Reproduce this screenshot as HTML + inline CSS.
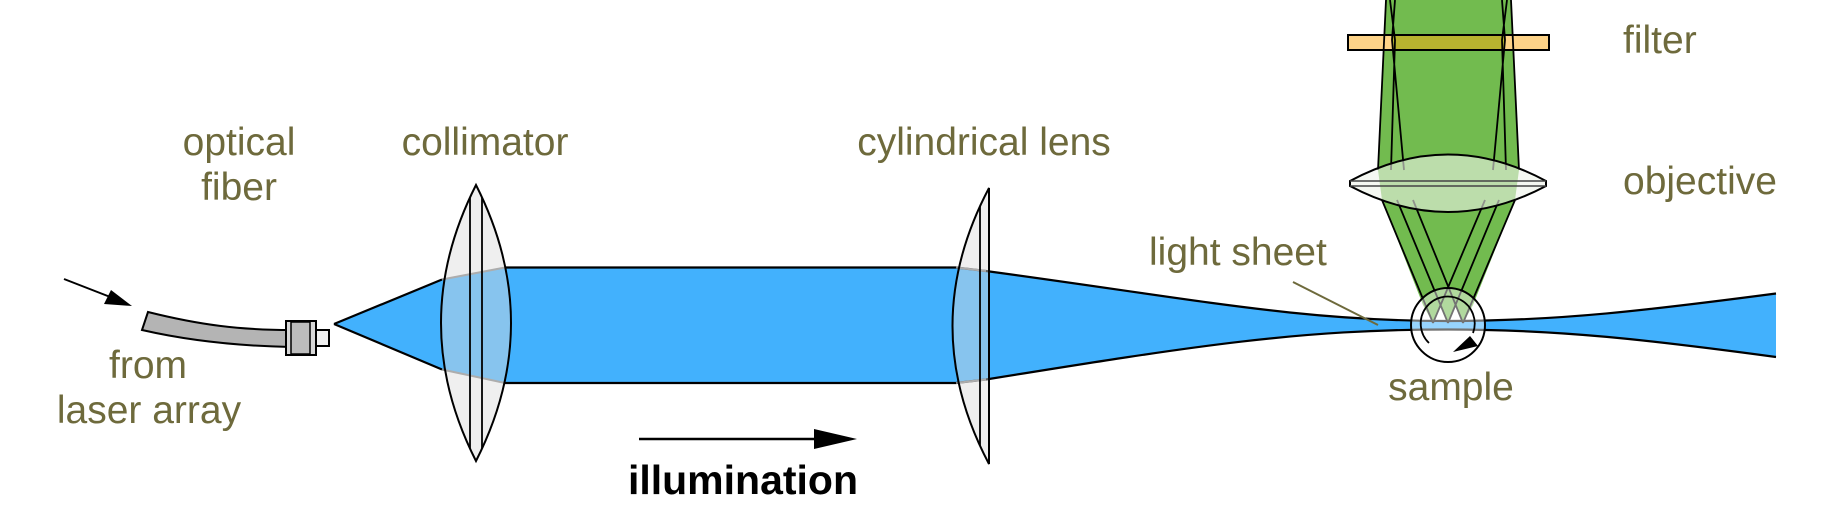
<!DOCTYPE html>
<html><head><meta charset="utf-8"><style>
html,body{margin:0;padding:0;background:#fff;}
svg{display:block;}
text{font-family:"Liberation Sans",sans-serif;fill:#6e6a3c;font-size:39px;}
</style></head><body>
<svg width="1824" height="523" viewBox="0 0 1824 523" xmlns="http://www.w3.org/2000/svg">
<defs>
<clipPath id="coll"><path d="M476,185 Q406,323 476,461 Q546,323 476,185 Z"/></clipPath>
<clipPath id="cyl"><path d="M989,188 Q916,326 989,464 Z"/></clipPath>
</defs>
<!-- illumination beam -->
<path d="M334,324 L442,279.5 L505,267.5 L956,267.5 L986,271 C1200,300 1300,321 1448,321 C1560,321 1650,310 1776,293.5 L1776,357 C1650,340 1560,329.5 1448,329.5 C1300,329.5 1200,345 986,379.5 L956,383 L505,383 L442,369.5 Z" fill="#42b1fd"/>
<path d="M334,324 L442,279.5 M442,369.5 L334,324 M505,267.5 L956,267.5 L986,271 C1200,300 1300,321 1448,321 C1560,321 1650,310 1776,293.5 M1776,357 C1650,340 1560,329.5 1448,329.5 C1300,329.5 1200,345 986,379.5 L956,383 L505,383" fill="none" stroke="#000" stroke-width="2.2"/>
<path d="M442,279.5 L505,267.5 M442,369.5 L505,383 M956,267.5 L986,271 M956,383 L986,379.5" stroke="#888" stroke-width="2"/>

<!-- green detection -->
<polygon points="1386,0 1511,0 1519,170 1515,200 1473,305 1463,323 1455,305 1448,323 1440,305 1433,323 1423,305 1382,200 1378,170" fill="#72bb4f"/>
<rect x="1348" y="35" width="201" height="15" fill="#fdd388" stroke="#000" stroke-width="2"/>
<rect x="1392" y="36" width="113" height="13" fill="#b8b32f"/>
<g stroke="#000" stroke-width="1.8" fill="none">
<path d="M1378,170 L1386,0 M1391,170 L1395,40 L1390,0 M1404,170 L1392,40 L1395,0"/>
<path d="M1519,170 L1511,0 M1506,170 L1502,40 L1507,0 M1493,170 L1505,40 L1502,0"/>
<path d="M1382,200 L1433,323 M1397,200 L1448,323 M1413,200 L1463,323"/>
<path d="M1515,200 L1463,323 M1499,200 L1448,323 M1485,200 L1433,323"/>
</g>
<!-- objective -->
<path d="M1350,181 Q1448,128 1546,181 L1546,186 Q1448,238 1350,186 Z" fill="#eef4ea" fill-opacity="0.6" stroke="#000" stroke-width="2"/>
<path d="M1350,181 L1546,181 M1350,186 L1546,186" stroke="#444" stroke-width="1.6"/>

<!-- sample -->
<circle cx="1448" cy="325" r="37" fill="#fff" fill-opacity="0.45" stroke="#000" stroke-width="2"/>
<path d="M1429,343 A27,27 0 1 1 1473,333" fill="none" stroke="#000" stroke-width="1.8"/>
<path d="M1453,352 L1470,336 L1478,346 Z" fill="#000"/>
<line x1="1293" y1="282" x2="1378" y2="325" stroke="#6e6a3c" stroke-width="2"/>

<!-- collimator -->
<path d="M476,185 Q406,323 476,461 Q546,323 476,185 Z" fill="#dcdcdc" fill-opacity="0.45" stroke="#000" stroke-width="2"/>
<g clip-path="url(#coll)"><path d="M470,180 L470,466 M482,180 L482,466" stroke="#000" stroke-width="1.8"/></g>
<!-- cylindrical lens -->
<path d="M989,188 Q916,326 989,464 Z" fill="#dcdcdc" fill-opacity="0.45" stroke="#000" stroke-width="2"/>
<g clip-path="url(#cyl)"><path d="M980,180 L980,470" stroke="#000" stroke-width="1.8"/></g>

<!-- fiber -->
<path d="M148,312 C200,325 240,330 291,330 L291,347 C240,346 190,341 142,330 Z" fill="#b4b4b4" stroke="#000" stroke-width="2"/>
<rect x="286" y="321" width="30" height="34" fill="#d8d8d8" stroke="#000" stroke-width="2"/>
<rect x="291" y="322" width="19" height="32" fill="#bdbdbd" stroke="#000" stroke-width="1.5"/>
<rect x="316" y="330" width="13" height="16" fill="#f0f0f0" stroke="#000" stroke-width="2"/>
<line x1="64" y1="279" x2="118" y2="300" stroke="#000" stroke-width="2"/>
<path d="M132,306 L104,304 L111,290 Z" fill="#000"/>

<!-- illumination arrow -->
<line x1="639" y1="439" x2="820" y2="439" stroke="#000" stroke-width="2.5"/>
<path d="M857,439 L814,429 L814,449 Z" fill="#000"/>

<!-- labels -->
<text x="239" y="155" text-anchor="middle">optical</text>
<text x="239" y="200" text-anchor="middle">fiber</text>
<text x="485" y="155" text-anchor="middle">collimator</text>
<text x="984" y="155" text-anchor="middle">cylindrical lens</text>
<text x="1149" y="265">light sheet</text>
<text x="1451" y="400" text-anchor="middle">sample</text>
<text x="148" y="378" text-anchor="middle">from</text>
<text x="149" y="423" text-anchor="middle">laser array</text>
<text x="1623" y="53">filter</text>
<text x="1623" y="194">objective</text>
<text x="743" y="494" text-anchor="middle" style="fill:#000;font-weight:bold;font-size:41px;">illumination</text>
</svg>
</body></html>
